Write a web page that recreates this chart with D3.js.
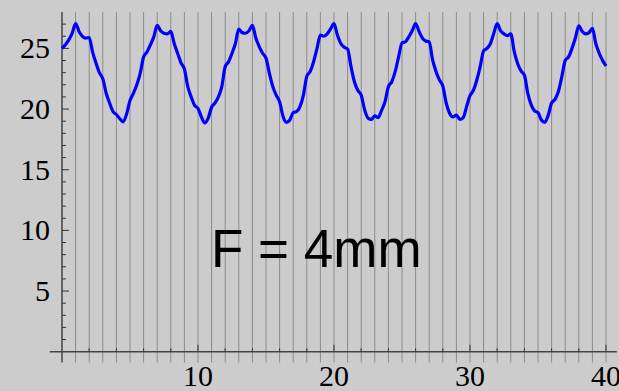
<!DOCTYPE html>
<html>
<head>
<meta charset="utf-8">
<script src="https://cdn.jsdelivr.net/npm/d3@7"></script>
<style>
  body { margin: 0; background: #cccccc; }
  svg { display: block; }
</style>
</head>
<body>
<div id="chart"></div>
<script>
//Curve samples, every 0.25 units of x (0 to 40)
var xStep = 0.25;
var yValues = [
    25.0, 25.3, 25.7, 26.25, 27.05, 26.4, 26.0, 25.85,
    25.9, 24.7, 23.8, 23.0, 22.5, 21.3, 20.5, 19.8,
    19.55, 19.2, 18.95, 19.6, 20.7, 21.3, 22.0, 22.95,
    24.3, 24.7, 25.3, 25.95, 26.9, 26.45, 26.25, 26.2,
    26.4, 25.4, 24.6, 23.8, 23.3, 21.85, 21.0, 20.3,
    20.05, 19.35, 18.85, 19.25, 20.15, 20.5, 21.0, 21.85,
    23.5, 23.9, 24.6, 25.4, 26.6, 26.3, 26.25, 26.45,
    26.9, 25.85, 25.15, 24.6, 24.2, 22.95, 21.85, 21.15,
    20.6, 19.4, 18.9, 19.1, 19.7, 19.8, 20.2, 21.15,
    22.7, 23.1, 23.9, 25.0, 26.1, 26.0, 26.2, 26.6,
    27.05, 26.1, 25.4, 25.1, 24.95, 23.5, 22.25, 21.55,
    21.15, 19.95, 19.25, 19.15, 19.45, 19.3, 19.9, 20.6,
    21.85, 22.25, 23.1, 24.3, 25.45, 25.55, 25.95, 26.45,
    27.05, 26.4, 25.85, 25.6, 25.55, 24.05, 23.1, 22.4,
    21.9, 20.5, 19.65, 19.35, 19.5, 19.15, 19.3, 20.2,
    21.1, 21.55, 22.4, 23.5, 24.8, 25.0, 25.4, 26.25,
    27.05, 26.45, 26.2, 26.05, 26.2, 24.75, 23.75, 23.15,
    22.8, 21.3, 20.35, 19.85, 19.7, 19.1, 18.9, 19.5,
    20.5, 20.8, 21.45, 22.65, 24.0, 24.3, 25.0, 25.85,
    26.85, 26.4, 26.2, 26.3, 26.65, 25.4, 24.6, 24.0,
    23.55
];

//Tick labels and grid positions
var xTickLabels = [10, 20, 30, 40];
var xMinorTicks = [2, 4, 6, 8, 12, 14, 16, 18, 22, 24, 26, 28, 32, 34, 36, 38];
var yTickLabels = [5, 10, 15, 20, 25];
var yMinorTicks = [1, 2, 3, 4, 6, 7, 8, 9, 11, 12, 13, 14, 16, 17, 18, 19, 21, 22, 23, 24, 26, 27];
var gridLines = d3.range(1, 41);
var label = "F = 4mm";

var data = yValues.map((v, i) => ({x: i * xStep, y: v}));

//Create SVG dimensions
var svgWidth = 619;
var svgHeight = 391;

var svg = d3.select("#chart")
    .append("svg")
    .attr("width", svgWidth)
    .attr("height", svgHeight);

svg.append("rect")
    .attr("width", svgWidth)
    .attr("height", svgHeight)
    .attr("fill", "#cccccc");

//Scales
var xScale = d3.scaleLinear()
    .domain([0, 40])
    .range([62, 606]);

var yScale = d3.scaleLinear()
    .domain([0, 25])
    .range([351.7, 48.4]);

//Vertical grid lines
svg.append("g")
    .selectAll("line")
    .data(gridLines)
    .enter()
    .append("line")
    .attr("x1", d => xScale(d))
    .attr("x2", d => xScale(d))
    .attr("y1", yScale(28))
    .attr("y2", yScale(-0.9))
    .attr("stroke", "#8c8c8c")
    .attr("stroke-width", 1);

//Axes lines
svg.append("line")
    .attr("x1", xScale(-0.9))
    .attr("x2", xScale(40.8))
    .attr("y1", yScale(0))
    .attr("y2", yScale(0))
    .attr("stroke", "#444")
    .attr("stroke-width", 1.5);

svg.append("line")
    .attr("x1", xScale(0))
    .attr("x2", xScale(0))
    .attr("y1", yScale(28))
    .attr("y2", yScale(-0.9))
    .attr("stroke", "#444")
    .attr("stroke-width", 1.5);

//X ticks
svg.append("g")
    .selectAll("line")
    .data(xMinorTicks)
    .enter()
    .append("line")
    .attr("x1", d => xScale(d))
    .attr("x2", d => xScale(d))
    .attr("y1", yScale(0))
    .attr("y2", yScale(0) - 3.5)
    .attr("stroke", "#333")
    .attr("stroke-width", 1);

svg.append("g")
    .selectAll("line")
    .data(xTickLabels)
    .enter()
    .append("line")
    .attr("x1", d => xScale(d))
    .attr("x2", d => xScale(d))
    .attr("y1", yScale(0))
    .attr("y2", yScale(0) - 7)
    .attr("stroke", "#333")
    .attr("stroke-width", 1);

svg.append("g")
    .selectAll("text")
    .data(xTickLabels)
    .enter()
    .append("text")
    .attr("x", d => xScale(d))
    .attr("y", 386)
    .attr("text-anchor", "middle")
    .attr("font-family", "Liberation Serif, Times New Roman, serif")
    .attr("font-size", 30)
    .attr("fill", "#000")
    .text(d => d);

//Y ticks
svg.append("g")
    .selectAll("line")
    .data(yMinorTicks)
    .enter()
    .append("line")
    .attr("x1", xScale(0))
    .attr("x2", xScale(0) + 4)
    .attr("y1", d => yScale(d))
    .attr("y2", d => yScale(d))
    .attr("stroke", "#333")
    .attr("stroke-width", 1);

svg.append("g")
    .selectAll("line")
    .data(yTickLabels)
    .enter()
    .append("line")
    .attr("x1", xScale(0))
    .attr("x2", xScale(0) + 7)
    .attr("y1", d => yScale(d))
    .attr("y2", d => yScale(d))
    .attr("stroke", "#333")
    .attr("stroke-width", 1);

svg.append("g")
    .selectAll("text")
    .data(yTickLabels)
    .enter()
    .append("text")
    .attr("x", 50)
    .attr("y", d => yScale(d) + 10)
    .attr("text-anchor", "end")
    .attr("font-family", "Liberation Serif, Times New Roman, serif")
    .attr("font-size", 30)
    .attr("fill", "#000")
    .text(d => d);

//Blue curve
var line = d3.line()
    .x(d => xScale(d.x))
    .y(d => yScale(d.y))
    .curve(d3.curveMonotoneX);

svg.append("path")
    .datum(data)
    .attr("d", line)
    .attr("fill", "none")
    .attr("stroke", "#0000ff")
    .attr("stroke-width", 3.2)
    .attr("stroke-linejoin", "round");

//Annotation
svg.append("text")
    .attr("x", 211)
    .attr("y", 267)
    .attr("font-family", "Liberation Sans, Arial, sans-serif")
    .attr("font-size", 53)
    .attr("fill", "#000")
    .text(label);
</script>
</body>
</html>
